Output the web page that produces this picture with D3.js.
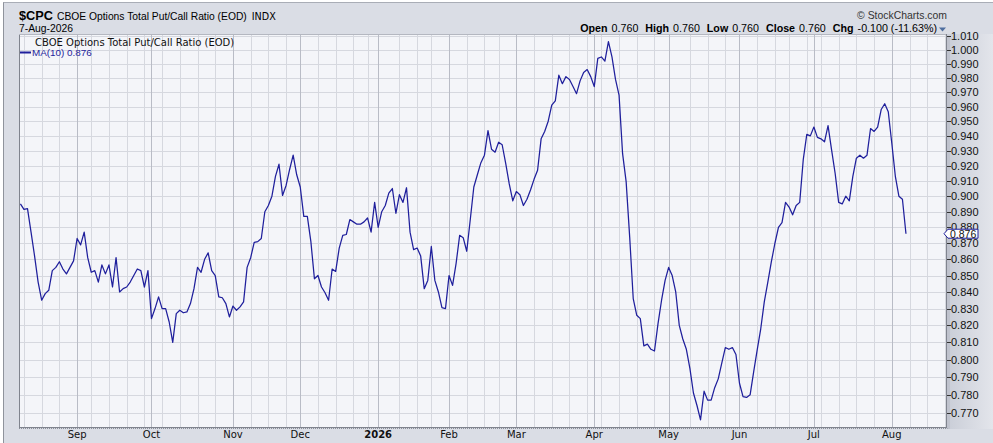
<!DOCTYPE html>
<html><head><meta charset="utf-8">
<script src="https://cdn.jsdelivr.net/npm/d3@7"></script>
<style>
html,body{margin:0;padding:0;background:#fff;overflow:hidden;}
svg{display:block;}
</style></head><body>
<svg id="c" width="993" height="443"></svg>
<script>
// ---------------- data ----------------
const symbol = "$CPC";
const seriesName = "CBOE Options Total Put/Call Ratio (EOD)";
const exchange = "INDX";
const lastDateLabel = "7-Aug-2026";
const legendLabel = "MA(10) 0.876";
const lastValue = 0.876;
const startDate = "2025-08-08";
const holidays = ["2025-09-01","2025-11-27","2025-12-25","2026-01-01","2026-01-19",
  "2026-02-16","2026-04-03","2026-05-25","2026-06-19","2026-07-03"];
const quoteLabels = ["Open","High","Low","Close","Chg"];
const quoteValues = ["0.760","0.760","0.760","0.760","-0.100 (-11.63%)"];
const monthTickLabels = ["Sep","Oct","Nov","Dec","2026","Feb","Mar","Apr","May","Jun","Jul","Aug"];
const yTickValues = [0.77,0.78,0.79,0.80,0.81,0.82,0.83,0.84,0.85,0.86,0.87,0.88,0.89,0.90,
  0.91,0.92,0.93,0.94,0.95,0.96,0.97,0.98,0.99,1.00,1.01];
// CBOE total put/call ratio, 10-day moving average, one value per trading day
const ratioMA10 = [
 0.895,0.8915,0.892,0.877,0.862,0.846,0.835,0.839,0.841,0.853,
 0.855,0.8585,0.854,0.851,0.855,0.859,0.873,0.869,0.877,0.861,
 0.852,0.853,0.846,0.8565,0.851,0.8565,0.843,0.861,0.840,0.842,
 0.843,0.846,0.850,0.854,0.853,0.843,0.853,0.824,0.830,0.837,
 0.830,0.830,0.822,0.810,0.827,0.829,0.8275,0.828,0.833,0.842,
 0.855,0.852,0.860,0.864,0.853,0.850,0.837,0.8365,0.833,0.825,
 0.8315,0.829,0.831,0.834,0.855,0.861,0.8705,0.871,0.873,0.890,
 0.894,0.900,0.913,0.921,0.9005,0.907,0.9175,0.927,0.914,0.906,
 0.887,0.887,0.871,0.848,0.850,0.843,0.8395,0.835,0.854,0.8525,
 0.867,0.875,0.8755,0.885,0.8835,0.882,0.882,0.8835,0.886,0.877,
 0.896,0.880,0.890,0.894,0.902,0.905,0.889,0.901,0.896,0.9055,
 0.877,0.866,0.867,0.862,0.842,0.847,0.868,0.847,0.840,0.8305,
 0.830,0.850,0.844,0.8575,0.875,0.8735,0.865,0.885,0.906,0.914,
 0.922,0.927,0.9435,0.931,0.929,0.9357,0.934,0.9216,0.908,0.897,
 0.903,0.901,0.894,0.898,0.904,0.911,0.917,0.938,0.943,0.950,
 0.961,0.964,0.982,0.976,0.981,0.979,0.974,0.969,0.978,0.984,
 0.986,0.981,0.974,0.994,0.995,0.992,1.006,0.995,0.979,0.968,
 0.928,0.9095,0.874,0.836,0.826,0.824,0.808,0.809,0.806,0.805,
 0.821,0.835,0.847,0.855,0.850,0.840,0.820,0.812,0.806,0.795,
 0.781,0.774,0.766,0.782,0.777,0.777,0.784,0.789,0.798,0.807,
 0.806,0.807,0.803,0.7865,0.779,0.7785,0.780,0.793,0.8056,0.818,
 0.834,0.846,0.8585,0.870,0.880,0.883,0.896,0.893,0.888,0.894,
 0.896,0.924,0.941,0.940,0.946,0.939,0.938,0.936,0.947,0.9305,
 0.915,0.896,0.895,0.900,0.897,0.913,0.925,0.927,0.925,0.927,
 0.945,0.943,0.946,0.958,0.962,0.9565,0.935,0.913,0.900,0.898,
 0.876
];

// ---------------- calendar ----------------
function tradingDays(start, n) {
  const hol = new Set(holidays), out = [];
  const d = new Date(start + "T00:00:00Z");
  while (out.length < n) {
    const dow = d.getUTCDay(), iso = d.toISOString().slice(0,10);
    if (dow !== 0 && dow !== 6 && !hol.has(iso)) out.push(new Date(d));
    d.setUTCDate(d.getUTCDate() + 1);
  }
  return out;
}
const days = tradingDays(startDate, 264);
const monthStarts = [], weekStarts = [];
for (let i = 1; i < days.length; i++) {
  if (days[i].getUTCMonth() !== days[i-1].getUTCMonth()) monthStarts.push(i);
  if (days[i].getUTCDay() < days[i-1].getUTCDay()) weekStarts.push(i);
}

// ---------------- helpers ----------------
function fitWidth(sel, target) {
  const w = sel.node().getComputedTextLength();
  const fs = parseFloat(sel.attr("font-size"));
  if (w > 0) sel.attr("font-size", (fs * target / w).toFixed(2));
  return sel;
}
function endX(sel) {
  return parseFloat(sel.attr("x")) + sel.node().getComputedTextLength();
}

// ---------------- layout ----------------
const W = 993, H = 443;
const P = {l: 19, r: 946, t: 34, b: 427};
const svg = d3.select("#c");
const defs = svg.append("defs");

const x = d3.scaleLinear().domain([-0.4, 261.3]).range([P.l, P.r]);
const y = d3.scaleLog().domain([0.7621, 1.0116]).range([P.b, P.t]);

// background
svg.append("rect").attr("width", W).attr("height", H).attr("fill", "#ffffff");
svg.append("rect").attr("x", 3).attr("y", 3).attr("width", W - 3).attr("height", H - 3)
  .attr("fill", "#dadde5");
svg.append("line").attr("x1", 3).attr("x2", W).attr("y1", 2.5).attr("y2", 2.5).attr("stroke", "#a9adb6");
svg.append("line").attr("x1", 3.5).attr("x2", 3.5).attr("y1", 2.5).attr("y2", H).attr("stroke", "#8f939c");

// right axis shading
const gAx = defs.append("linearGradient").attr("id","ga").attr("x1",0).attr("y1",0).attr("x2",1).attr("y2",0);
gAx.append("stop").attr("offset","0%").attr("stop-color","#c9cdd7");
gAx.append("stop").attr("offset","100%").attr("stop-color","#e3e5eb");
svg.append("rect").attr("x", P.r).attr("y", P.t).attr("width", W - P.r).attr("height", P.b - P.t + 2)
  .attr("fill", "url(#ga)");

// plot background
svg.append("rect").attr("x", P.l).attr("y", P.t).attr("width", P.r - P.l).attr("height", P.b - P.t)
  .attr("fill", "#f4f5f9");

// grid
const grid = svg.append("g");
grid.selectAll("line.h").data(yTickValues).join("line")
  .attr("x1", P.l).attr("x2", P.r)
  .attr("y1", d => Math.round(y(d)) + 0.5).attr("y2", d => Math.round(y(d)) + 0.5)
  .attr("stroke", "#d6d8df").attr("stroke-width", 1);
const minorWeeks = weekStarts.filter(i => x(i) < P.r && !monthStarts.some(m => Math.abs(m - i) <= 1));
grid.selectAll("line.w").data(minorWeeks).join("line")
  .attr("x1", i => Math.round(x(i)) + 0.5).attr("x2", i => Math.round(x(i)) + 0.5)
  .attr("y1", P.t).attr("y2", P.b)
  .attr("stroke", "#d6d8df");
const majors = monthStarts.filter(i => x(i) < P.r);
grid.selectAll("line.m").data(majors).join("line")
  .attr("x1", i => Math.round(x(i)) + 0.5).attr("x2", i => Math.round(x(i)) + 0.5)
  .attr("y1", P.t).attr("y2", P.b)
  .attr("stroke", "#b9bcc6");

// line
svg.append("path").datum(ratioMA10)
  .attr("fill", "none").attr("stroke", "#1f1f9c").attr("stroke-width", 1.25)
  .attr("stroke-linejoin", "round")
  .attr("d", d3.line().x((d, i) => x(i)).y(d => y(d)));

// frame
svg.append("line").attr("x1", P.l + 0.5).attr("x2", P.l + 0.5).attr("y1", P.t).attr("y2", P.b + 1).attr("stroke", "#80848e");
svg.append("line").attr("x1", P.l).attr("x2", P.r).attr("y1", P.t + 0.5).attr("y2", P.t + 0.5).attr("stroke", "#b4b7c0");
svg.append("line").attr("x1", P.r + 0.5).attr("x2", P.r + 0.5).attr("y1", P.t).attr("y2", P.b + 1).attr("stroke", "#80848e");
svg.append("line").attr("x1", P.l).attr("x2", P.r + 1).attr("y1", P.b + 0.5).attr("y2", P.b + 0.5).attr("stroke", "#80848e");
svg.append("line").attr("x1", P.l).attr("x2", P.r + 3).attr("y1", P.b + 1.5).attr("y2", P.b + 1.5)
  .attr("stroke", "#8a8e98").attr("stroke-dasharray", "1,1");
svg.append("rect").attr("x", P.r + 1).attr("y", P.t + 2).attr("width", 3).attr("height", P.b - P.t)
  .attr("fill", "#b7bbc6").attr("opacity", 0.6);

// y axis
const yAx = svg.append("g").attr("font-family", "'Liberation Sans', Arial, sans-serif").attr("font-size", 11);
yAx.selectAll("line").data(yTickValues).join("line")
  .attr("x1", P.r + 1).attr("x2", P.r + 5)
  .attr("y1", d => Math.round(y(d)) + 0.5).attr("y2", d => Math.round(y(d)) + 0.5)
  .attr("stroke", "#333");
yAx.selectAll("text").data(yTickValues).join("text")
  .attr("x", P.r + 5).attr("y", d => y(d) + 4)
  .attr("fill", "#111")
  .text(d => d3.format(".3f")(d));

// last value marker
const ly = y(lastValue);
svg.append("path")
  .attr("d", `M${P.r - 2},${ly} L${P.r + 2},${ly - 4.5} L${P.r + 32},${ly - 4.5} L${P.r + 32},${ly + 4.5} L${P.r + 2},${ly + 4.5} Z`)
  .attr("fill", "#ffffff").attr("stroke", "#1f1f9c").attr("stroke-width", 1);
svg.append("text").attr("x", P.r + 4).attr("y", ly + 3.8)
  .attr("font-family", "'Liberation Sans', Arial, sans-serif").attr("font-size", 10.5)
  .attr("fill", "#111").text(d3.format(".3f")(lastValue));

// x axis labels
const xAx = svg.append("g").attr("font-family", "'DejaVu Sans', Verdana, sans-serif").attr("font-size", 10).attr("fill", "#111");
xAx.selectAll("text").data(majors.slice(0, monthTickLabels.length)).join("text")
  .attr("x", i => x(i)).attr("y", 438)
  .attr("text-anchor", "middle")
  .attr("font-weight", (i, k) => /^\d{4}$/.test(monthTickLabels[k]) ? "bold" : "normal")
  .text((i, k) => monthTickLabels[k]);

// header
const hdr = svg.append("g").attr("font-family", "'Liberation Sans', Arial, sans-serif").attr("fill", "#000");
const tSym = hdr.append("text").attr("x", 19).attr("y", 20).attr("font-size", 14).attr("font-weight", "bold").text(symbol);
fitWidth(tSym, 34);
const tName = hdr.append("text").attr("x", endX(tSym) + 4).attr("y", 20).attr("font-size", 11).text(seriesName);
fitWidth(tName, 190);
const tEx = hdr.append("text").attr("x", endX(tName) + 5).attr("y", 20)
  .attr("font-family", "'DejaVu Sans', sans-serif").attr("font-size", 9.5).text(exchange);
fitWidth(tEx, 24);
const tDate = hdr.append("text").attr("x", 19).attr("y", 31.5).attr("font-size", 11).text(lastDateLabel);
fitWidth(tDate, 54);
const tCopy = hdr.append("text").attr("x", 947).attr("y", 19).attr("font-size", 11.5).attr("text-anchor", "end")
  .attr("fill", "#333").text("\u00A9 StockCharts.com");
fitWidth(tCopy, 90);

// quote line
const q = hdr.append("text").attr("y", 31.5).attr("font-size", 11).attr("x", 937).attr("text-anchor", "end");
quoteLabels.forEach((lab, k) => {
  q.append("tspan").attr("font-weight", "bold").attr("dx", k ? 7 : 0).text(lab);
  q.append("tspan").attr("dx", 4).text(quoteValues[k]);
});
{
  const w = q.node().getComputedTextLength() + 4 * 7 + 5 * 4;
  q.attr("font-size", (11 * (357 - 48) / (w - 48)).toFixed(2));
}
svg.append("path").attr("d", "M939,27.5 L946,27.5 L942.5,31.5 Z").attr("fill", "#4f6f9f");

// legend inside plot
const lg = svg.append("g").attr("font-family", "'DejaVu Sans', Verdana, sans-serif").attr("font-size", 10);
const tLeg = lg.append("text").attr("x", 35).attr("y", 45.5).attr("fill", "#111").text(seriesName);
fitWidth(tLeg, 225);
lg.append("line").attr("x1", 20).attr("x2", 31).attr("y1", 52.5).attr("y2", 52.5).attr("stroke", "#1f1f9c").attr("stroke-width", 2);
const tMa = lg.append("text").attr("x", 32).attr("y", 56).attr("fill", "#1f1f9c").attr("font-size", 10)
  .attr("font-family", "'Liberation Sans', Arial, sans-serif").text(legendLabel);
fitWidth(tMa, 60);
</script>
</body></html>
